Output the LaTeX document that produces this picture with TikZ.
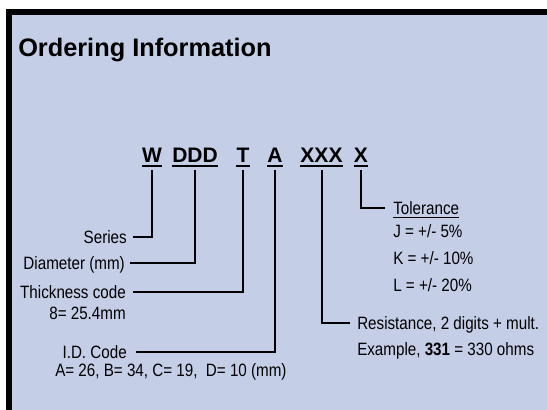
\documentclass[tikz,border=0pt]{standalone}
\usepackage{fontspec}
\setmainfont{Liberation Sans}
\newfontfamily\labfont[FakeStretch=0.85]{Liberation Sans}
\definecolor{panel}{RGB}{197,206,231}
\begin{document}
\begin{tikzpicture}[x=0.75pt,y=-0.75pt,
  conn/.style={line width=1.5pt, black},
  code/.style={font=\fontsize{15.75}{18}\selectfont\bfseries, inner sep=0pt, anchor=base},
  lab/.style={font=\labfont\fontsize{13.4}{15}\selectfont, inner sep=0pt, text height=9.6pt, text depth=0pt},
  uline/.style={line width=1.3pt}]
\useasboundingbox (0,0) rectangle (547,410);
\clip (0,0) rectangle (547,410);
\draw[line width=4.5pt, fill=panel] (8.5,12.5) rectangle (570,430);
\node[font=\fontsize{19}{22}\selectfont\bfseries, anchor=base west, inner sep=0pt] (title) at (18,57) {Ordering Information};
% code letters
\node[code] (cW) at (152,163) {W};
\node[code] (cD) at (195,163) {DDD};
\node[code] (cT) at (243,163) {T};
\node[code] (cA) at (275,163) {A};
\node[code] (cR) at (321.5,163) {XXX};
\node[code] (cX) at (361,163) {X};
\foreach \n in {cW,cD,cT,cA,cR,cX}
  \draw[uline] ([yshift=-2pt]\n.base west) -- ([yshift=-2pt]\n.base east);
% labels
\node[lab, anchor=east] (lSeries) at (127,237) {Series};
\node[lab, anchor=east] (lDia) at (125,263) {Diameter (mm)};
\node[lab, anchor=east] (lThk) at (126,292) {Thickness code};
\node[lab, anchor=east] (lThk2) at (126,313) {8= 25.4mm};
\node[lab, anchor=east] (lID) at (127,352) {I.D. Code};
\node[lab, anchor=west] (lID2) at (55,370) {A= 26, B= 34, C= 19,\ \ D= 10 (mm)};
\node[lab, anchor=west] (lRes) at (357,323) {Resistance, 2 digits + mult.};
\node[lab, anchor=west] (lRes2) at (357,349) {Example, \textbf{331} = 330 ohms};
\node[lab, anchor=west] (lTol) at (393,208) {Tolerance};
\draw[line width=0.8pt] ([yshift=-2pt]lTol.south west) -- ([yshift=-2pt]lTol.south east);
\node[lab, anchor=west] (lJ) at (393,231) {J = +/- 5\%};
\node[lab, anchor=west] (lK) at (393,258) {K = +/- 10\%};
\node[lab, anchor=west] (lL) at (393,285) {L = +/- 20\%};
% connectors
\draw[conn] ([yshift=-5pt]cW.base) |- ([xshift=4.5pt]lSeries.east);
\draw[conn] ([yshift=-5pt]cD.base) |- ([xshift=4pt]lDia.east);
\draw[conn] ([yshift=-5pt]cT.base) |- ([xshift=5pt]lThk.east);
\draw[conn] ([yshift=-5pt]cA.base) |- ([xshift=7pt]lID.east);
\draw[conn] ([yshift=-5pt]cR.base) |- ([xshift=-5pt]lRes.west);
\draw[conn] ([yshift=-5pt]cX.base) |- ([xshift=-6pt]lTol.west);
\end{tikzpicture}
\end{document}
